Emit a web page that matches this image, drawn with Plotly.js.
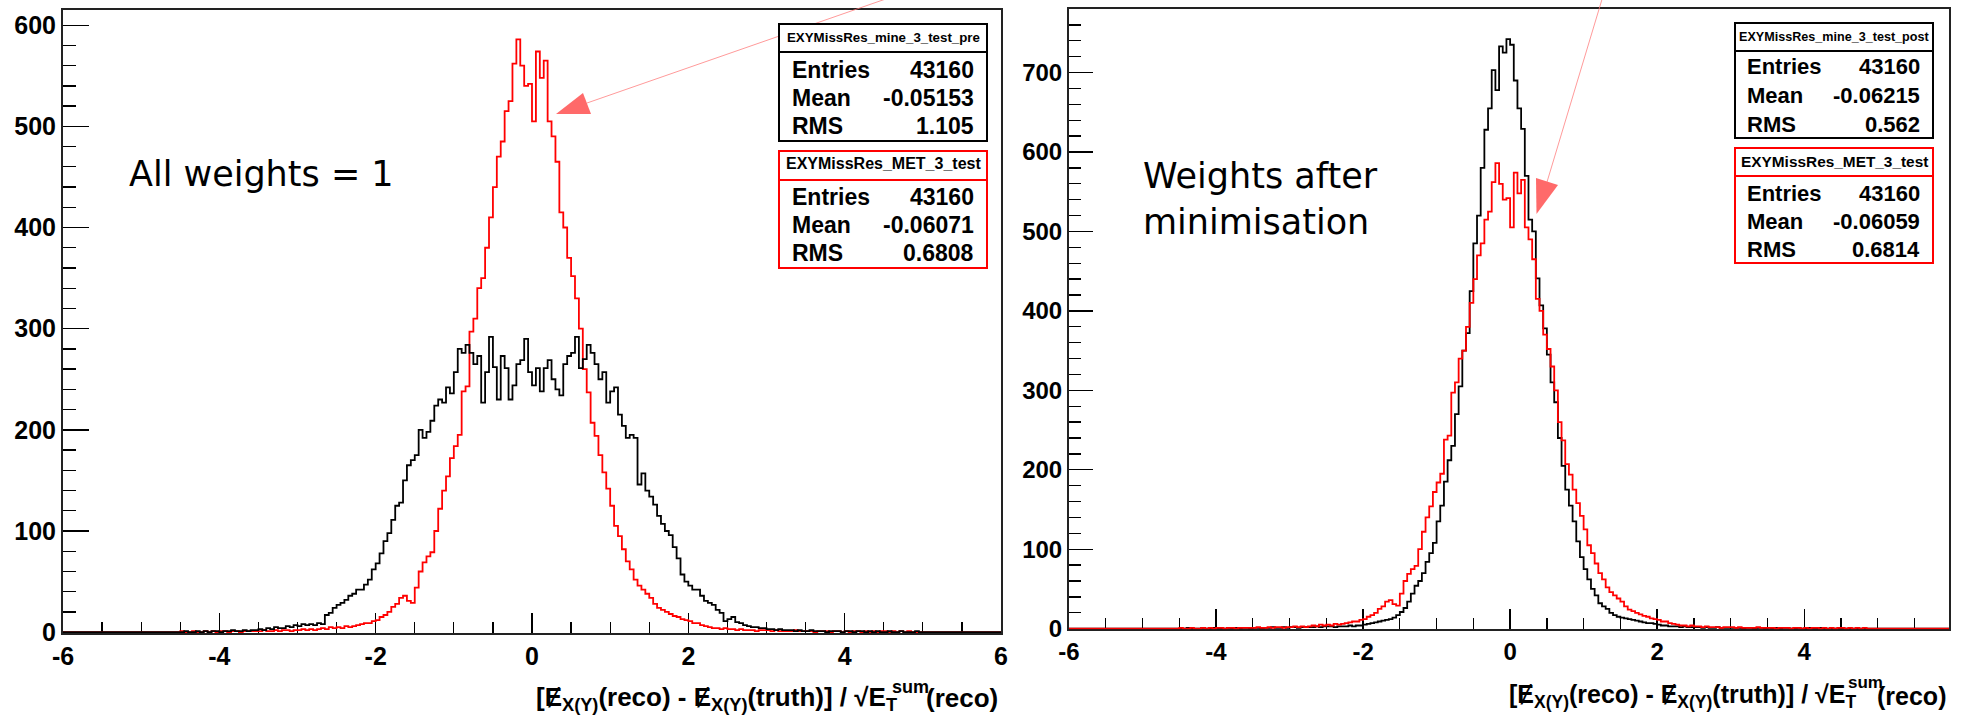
<!DOCTYPE html>
<html>
<head>
<meta charset="utf-8">
<script src="https://cdn.plot.ly/plotly-3.0.1.min.js"></script>
<style>html,body{margin:0;padding:0;background:#fff;overflow:hidden}</style>
</head>
<body>
<div id="chart" style="width:1965px;height:719px"></div>
<script>
// ---------------- DATA ----------------
// histogram bins: first bin starts at binStart, each binWidth wide
const binStart = -4.5;
const binWidth = 0.05;

// Left panel, black: EXYMissRes_mine_3_test_pre (all weights = 1)
const leftBlack = [
  0,1,0,0,1,0,1,0,1,1,0,1,
  1,2,1,1,2,1,2,2,
  3,2,4,3,5,4,4,
  6,5,7,6,8,7,8,7,
  9,8,17,19,24,
  27,29,32,36,38,
  42,42,47,52,62,
  68,78,90,98,111,
  125,128,150,165,170,
  175,200,192,198,209,
  224,230,227,242,236,
  257,280,276,284,276,
  265,273,227,257,292,
  262,230,273,261,230,
  244,265,269,290,257,
  244,261,238,261,269,
  250,240,234,265,273,
  276,292,261,270,284,
  276,265,250,257,227,
  238,242,215,204,192,
  195,192,146,157,140,
  134,126,115,107,100,
  96,84,73,57,50,
  46,42,42,36,31,
  29,27,22,19,11,
  13,15,10,9,7,
  6,5,5,4,4,
  3,3,2,3,2,
  2,2,1,2,1,
  1,2,1,1,1,0,1,1,1,0,
  1,1,0,1,1,0,1,0,1,0,
  0,1,0,0,1,0,0,0,1,0
];

// Red: EXYMissRes_MET_3_test (same histogram in both panels)
const redMET = [
  1,0,0,1,0,0,1,0,1,0,1,1,
  0,1,1,0,1,1,1,1,
  1,2,1,1,2,1,2,
  2,1,2,2,3,2,3,2,
  3,4,3,5,4,
  5,4,6,5,6,
  7,8,9,9,11,
  12,15,17,20,25,
  28,34,36,31,29,
  44,60,69,75,79,
  100,122,140,154,172,
  184,195,238,243,297,
  310,340,350,380,410,
  440,470,485,515,525,
  562,586,560,540,542,
  505,574,548,565,505,
  490,465,415,400,370,
  352,330,300,260,237,
  207,194,175,158,142,
  125,105,95,82,70,
  62,52,46,42,38,
  34,28,24,22,20,
  18,16,15,13,12,
  11,9,9,7,6,
  5,4,4,3,4,
  3,3,2,3,2,
  2,2,1,2,2,
  2,1,2,1,1,
  1,1,2,1,1,
  1,1,0,1,1,1,0,1,1,0,
  1,0,1,1,0,1,0,1,0,1,
  1,0,1,0,1,0,1,0,0,0
];

// Right panel, black: EXYMissRes_mine_3_test_post (weights after minimisation)
const rightBlack = [
  0,0,1,0,0,0,1,0,0,1,0,0,
  0,1,0,1,0,1,1,0,
  1,1,0,1,1,2,1,
  1,2,1,2,2,1,2,2,
  2,2,3,2,3,
  3,3,2,3,3,
  3,4,3,4,4,
  5,6,7,8,9,
  10,11,12,14,17,
  21,26,34,44,54,
  60,70,84,95,108,
  135,155,185,212,230,
  270,305,350,372,425,
  485,520,580,628,655,
  703,678,733,725,742,
  735,690,655,629,570,
  515,500,441,407,378,
  345,310,285,240,205,
  175,155,135,110,90,
  75,62,50,42,32,
  28,25,20,17,15,
  14,13,12,11,10,
  9,8,7,7,6,
  5,4,4,3,3,
  3,2,3,2,2,
  2,2,1,2,1,
  1,2,1,1,1,
  1,1,1,0,1,
  1,0,1,1,0,
  1,0,1,0,1,1,0,0,1,0,
  0,1,0,0,1,0,0,0,0,0,
  0,0,0,0,0,0,0,0,0,0
];

const xTickValsL = [-6,-4,-2,0,2,4,6];
const xTickTextL = ['-6','-4','-2','0','2','4','6'];
const xTickValsR = [-6,-4,-2,0,2,4];
const xTickTextR = ['-6','-4','-2','0','2','4'];

const statsNames   = ['EXYMissRes_mine_3_test_pre','EXYMissRes_MET_3_test','EXYMissRes_mine_3_test_post','EXYMissRes_MET_3_test'];
const statsEntries = ['43160','43160','43160','43160'];
const statsMeans   = ['-0.05153','-0.06071','-0.06215','-0.06059'];
const statsRMS     = ['1.105','0.6808','0.562','0.6814'];
const statsLabels  = ['Entries','Mean','RMS'];

const noteLeft  = 'All weights = 1';
const noteRight = 'Weights after<br>minimisation';
const axisTitleMain = '[Ɇ<sub>X(Y)</sub>(reco) - Ɇ<sub>X(Y)</sub>(truth)] / √E<sub>T</sub>';
const axisTitleSup  = 'sum';
const axisTitleEnd  = '(reco)';

// ---------------- LAYOUT HELPERS ----------------
const W = 1965, H = 719;
const fx = p => p / W;
const fy = p => 1 - p / H;
const BOLD = 'Liberation Sans, Arial, Helvetica, sans-serif';

function stepXY(values, xmin, xmax) {
  const xs = [xmin], ys = [0];
  for (let i = 0; i <= values.length; i++) {
    xs.push(+(binStart + i * binWidth).toFixed(4));
    ys.push(i < values.length ? values[i] : 0);
  }
  xs.push(xmax); ys.push(0);
  return {xs, ys};
}
function histTrace(values, color, xa, ya, xmin, xmax) {
  const s = stepXY(values, xmin, xmax);
  return {type:'scatter', mode:'lines', x:s.xs, y:s.ys, xaxis:xa, yaxis:ya,
          line:{shape:'hv', color:color, width:1.8}, hoverinfo:'skip'};
}

const traces = [
  histTrace(redMET, '#ff0000', 'x', 'y', -6, 6),
  histTrace(leftBlack, '#000000', 'x', 'y', -6, 6),
  histTrace(rightBlack, '#000000', 'x2', 'y2', -6, 5.97),
  histTrace(redMET, '#ff0000', 'x2', 'y2', -6, 5.97)
];

function xAxisCfg(dom, range, vals, text, fs) {
  return {domain:dom, range:range, tickmode:'array', tickvals:vals, ticktext:text,
    ticks:'inside', ticklen:20, tickwidth:1.3, tickcolor:'#000',
    showline:true, linecolor:'#222', linewidth:2, mirror:true,
    showgrid:false, zeroline:false, layer:'below traces',
    tickfont:{family:BOLD, size:fs, color:'#000', weight:700},
    minor:{ticks:'inside', ticklen:11, tickwidth:1.3, tickcolor:'#000', tickmode:'linear', tick0:0, dtick:0.5, showgrid:false}};
}
function yAxisCfg(dom, range, fs, major, minor) {
  return {domain:dom, range:range, tickmode:'linear', tick0:0, dtick:100,
    ticks:'inside', ticklen:major, tickwidth:1.3, tickcolor:'#000',
    showline:true, linecolor:'#222', linewidth:2, mirror:true,
    showgrid:false, zeroline:false, layer:'below traces',
    tickfont:{family:BOLD, size:fs, color:'#000', weight:700},
    minor:{ticks:'inside', ticklen:minor, tickwidth:1.3, tickcolor:'#000', tickmode:'linear', tick0:0, dtick:20, showgrid:false}};
}

const shapes = [];
const annotations = [];

// arrows (drawn before boxes so boxes cover the line)
function arrow(x0, y0, x1, y1, tri) {
  shapes.push({type:'line', xref:'paper', yref:'paper', x0:fx(x0), y0:fy(y0), x1:fx(x1), y1:fy(y1),
    line:{color:'rgba(255,120,120,0.75)', width:1}});
  const p = tri.map((q,i)=> (i===0?'M':'L') + fx(q[0]) + ',' + fy(q[1])).join(' ') + ' Z';
  shapes.push({type:'path', xref:'paper', yref:'paper', path:p, fillcolor:'#ff6a6a', line:{width:0}});
}
arrow(900, -6, 587, 103, [[556,114],[583,93],[591,114]]);
arrow(1603, -4, 1547, 182, [[1536.5,214],[1536,178],[1558,185]]);

// stats boxes
const boxes = [
  {x0:779, x1:987, y0:24, ys:52, y1:141, ty:38, tfs:13.3, rows:[70,98,126.5], lx:790, vx:976, fs:23, color:'#000'},
  {x0:779, x1:987, y0:151, ys:180, y1:268, ty:164, tfs:16, rows:[197,224.5,253], lx:790, vx:976, fs:23, color:'#ff0000'},
  {x0:1735, x1:1933, y0:23, ys:51, y1:138, ty:37, tfs:12.6, rows:[67,95,124], lx:1745, vx:1922, fs:22, color:'#000'},
  {x0:1735, x1:1933, y0:148, ys:176, y1:263, ty:161.5, tfs:15.4, rows:[193,221,249], lx:1745, vx:1922, fs:22, color:'#ff0000'}
];
boxes.forEach((b, k) => {
  shapes.push({type:'rect', xref:'paper', yref:'paper', x0:fx(b.x0), x1:fx(b.x1), y0:fy(b.y1), y1:fy(b.y0),
    line:{color:b.color, width:2}, fillcolor:'#ffffff'});
  shapes.push({type:'line', xref:'paper', yref:'paper', x0:fx(b.x0), x1:fx(b.x1), y0:fy(b.ys), y1:fy(b.ys),
    line:{color:b.color, width:2}});
  annotations.push({xref:'paper', yref:'paper', x:fx((b.x0+b.x1)/2), y:fy(b.ty), xanchor:'center', yanchor:'middle',
    text:statsNames[k], showarrow:false, font:{family:BOLD, size:b.tfs, color:'#000', weight:700}});
  const vals = [statsEntries[k], statsMeans[k], statsRMS[k]];
  statsLabels.forEach((lab, r) => {
    annotations.push({xref:'paper', yref:'paper', x:fx(b.lx), y:fy(b.rows[r]), xanchor:'left', yanchor:'middle',
      text:lab, showarrow:false, font:{family:BOLD, size:b.fs, color:'#000', weight:700}});
    annotations.push({xref:'paper', yref:'paper', x:fx(b.vx), y:fy(b.rows[r]), xanchor:'right', yanchor:'middle',
      text:vals[r], showarrow:false, font:{family:BOLD, size:b.fs, color:'#000', weight:700}});
  });
});

// notes
annotations.push({xref:'paper', yref:'paper', x:fx(127), y:fy(174), xanchor:'left', yanchor:'middle',
  text:noteLeft, showarrow:false, font:{family:'DejaVu Sans, sans-serif', size:35, color:'#000'}});
annotations.push({xref:'paper', yref:'paper', x:fx(1141), y:fy(199), xanchor:'left', yanchor:'middle', align:'left',
  text:noteRight, showarrow:false, font:{family:'DejaVu Sans, sans-serif', size:35, color:'#000'}});

// x-axis titles (ROOT style, right aligned, stacked sub/superscript)
function axisTitle(mainRight, supLeft, endRight, yMain, ySup, fs) {
  annotations.push({xref:'paper', yref:'paper', x:fx(mainRight), y:fy(yMain), xanchor:'right', yanchor:'middle',
    text:axisTitleMain, showarrow:false, font:{family:BOLD, size:fs, color:'#000', weight:700}});
  annotations.push({xref:'paper', yref:'paper', x:fx(supLeft), y:fy(ySup), xanchor:'left', yanchor:'middle',
    text:axisTitleSup, showarrow:false, font:{family:BOLD, size:Math.round(fs*0.68), color:'#000', weight:700}});
  annotations.push({xref:'paper', yref:'paper', x:fx(endRight), y:fy(yMain), xanchor:'right', yanchor:'middle',
    text:axisTitleEnd, showarrow:false, font:{family:BOLD, size:fs, color:'#000', weight:700}});
}
axisTitle(899, 890, 1000, 698, 687, 26);
axisTitle(1859, 1846, 1948, 696, 682, 25);

const layout = {
  width:W, height:H, margin:{l:0, r:0, t:0, b:0},
  paper_bgcolor:'#ffffff', plot_bgcolor:'#ffffff', showlegend:false,
  xaxis: Object.assign(xAxisCfg([fx(63), fx(1001)], [-6, 6], xTickValsL, xTickTextL, 25), {anchor:'y'}),
  yaxis: Object.assign(yAxisCfg([fy(633), fy(10)], [-0.8, 615], 25, 26, 13), {anchor:'x'}),
  xaxis2: Object.assign(xAxisCfg([fx(1069), fx(1949)], [-6, 5.97], xTickValsR, xTickTextR, 24), {anchor:'y2'}),
  yaxis2: Object.assign(yAxisCfg([fy(629.3), fy(9)], [-0.8, 780], 24, 24, 12), {anchor:'x2'}),
  shapes: shapes,
  annotations: annotations
};

Plotly.newPlot('chart', traces, layout, {staticPlot:true, displayModeBar:false});
</script>
</body>
</html>
